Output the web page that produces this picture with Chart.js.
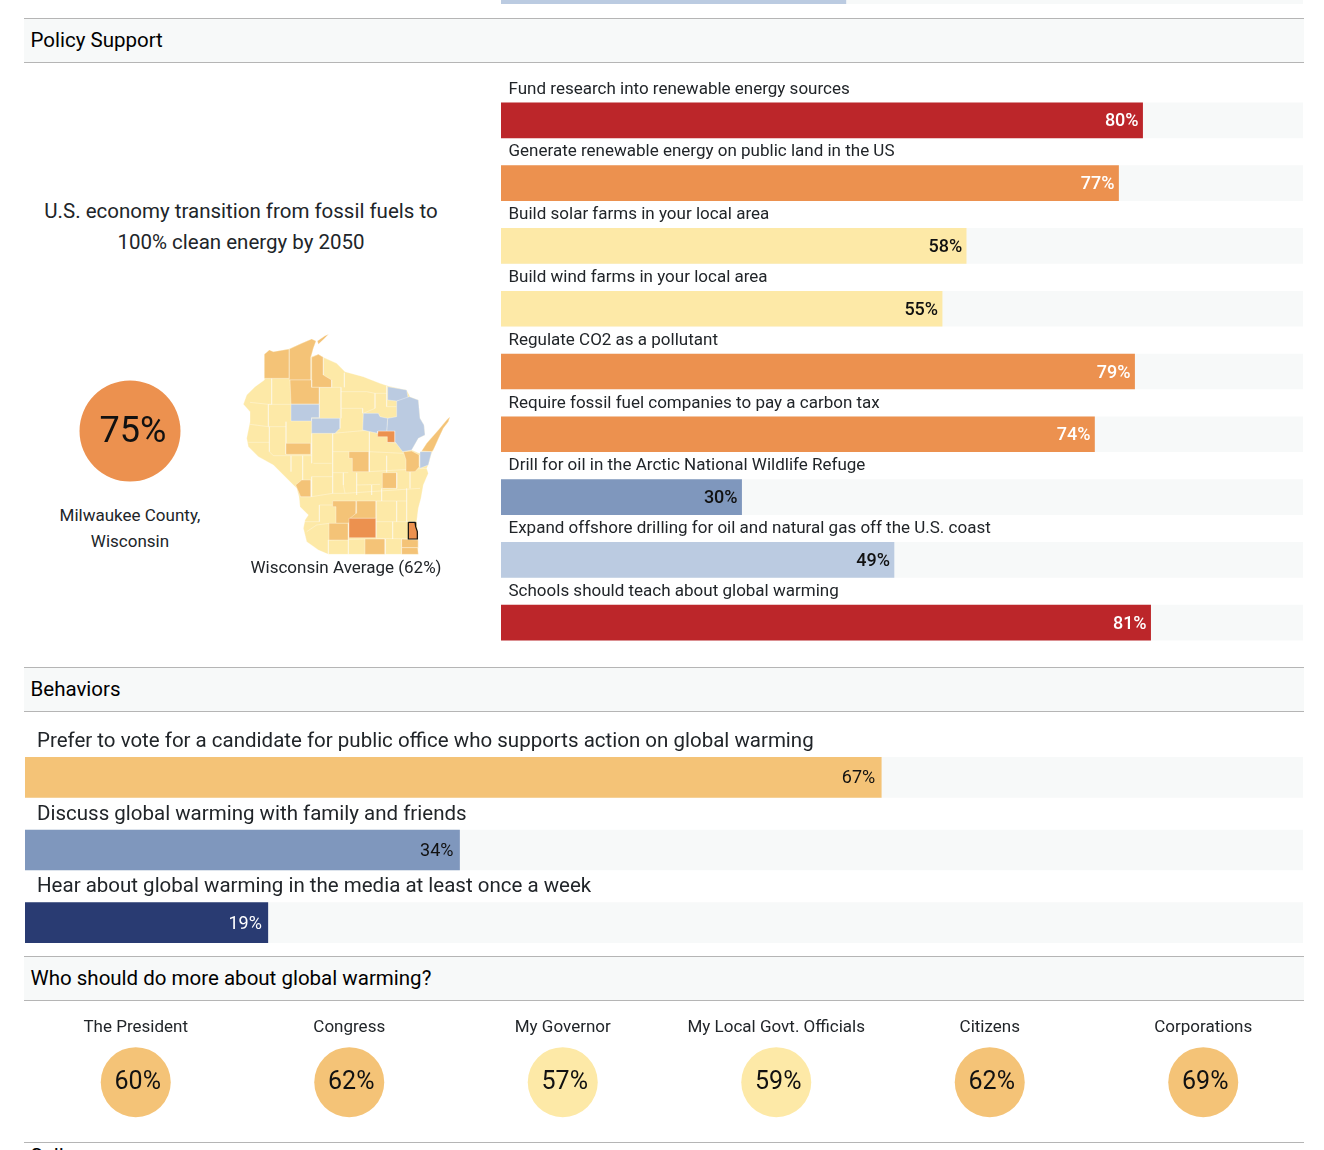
<!DOCTYPE html>
<html>
<head>
<meta charset="utf-8">
<title>Policy Support</title>
<script src="https://cdn.jsdelivr.net/npm/chart.js@4"></script>
<style>
  html, body { margin: 0; padding: 0; background: #fff; }
  body { position: relative; width: 1324px; height: 1150px; overflow: hidden; font-family: Roboto, sans-serif; color: #212529; }
  canvas, .txt, .head { position: absolute; }
  .head { left: 24px; width: 1280px; height: 43px; background: #f7f9f9; border-top: 1px solid #b5b5b5; border-bottom: 1px solid #b5b5b5; font-size: 20.5px; line-height: 43px; text-indent: 6.5px; color: #000; }
  .txt { text-align: center; white-space: nowrap; }
</style>
</head>
<body>
<canvas id="prev" width="802" height="36" style="left:501px;top:-32px"></canvas>

<div class="head" style="top:18px">Policy Support</div>
<div class="txt" style="left:21px;width:440px;top:196px;font-size:20.5px;line-height:31px">U.S. economy transition from fossil fuels to<br>100% clean energy by 2050</div>
<canvas id="county" width="120" height="120" style="left:70px;top:371px"></canvas>
<div class="txt" style="left:30px;width:200px;top:502px;font-size:17px;line-height:26px">Milwaukee County,<br>Wisconsin</div>
<canvas id="map" width="235" height="235" style="left:230px;top:325px"></canvas>
<div class="txt" style="left:236px;width:220px;top:556px;font-size:17px;line-height:22px">Wisconsin Average (62%)</div>
<canvas id="policy" width="802" height="584" style="left:501px;top:70px"></canvas>

<div class="head" style="top:667px">Behaviors</div>
<canvas id="behaviors" width="1278" height="239" style="left:25px;top:720px"></canvas>

<div class="head" style="top:956px">Who should do more about global warming?</div>
<canvas id="actors" width="1281" height="112" style="left:29px;top:1014px"></canvas>

<div class="head" style="top:1142px;background:#fff;line-height:26px">Salience</div>

<script>
// ---- data ----
const prevValues = [43];

const policyLabels = [
  'Fund research into renewable energy sources',
  'Generate renewable energy on public land in the US',
  'Build solar farms in your local area',
  'Build wind farms in your local area',
  'Regulate CO2 as a pollutant',
  'Require fossil fuel companies to pay a carbon tax',
  'Drill for oil in the Arctic National Wildlife Refuge',
  'Expand offshore drilling for oil and natural gas off the U.S. coast',
  'Schools should teach about global warming'
];
const policyValues = [80, 77, 58, 55, 79, 74, 30, 49, 81];

const behaviorLabels = [
  'Prefer to vote for a candidate for public office who supports action on global warming',
  'Discuss global warming with family and friends',
  'Hear about global warming in the media at least once a week'
];
const behaviorValues = [67, 34, 19];

const actorLabels = ['The President', 'Congress', 'My Governor', 'My Local Govt. Officials', 'Citizens', 'Corporations'];
const actorValues = [60, 62, 57, 59, 62, 69];

const countyValue = [75];

// map shapes, in the units of the map's own x and y scales
const stateOutline = [[103,88],[118,75],[130,80],[175,72],[215,55],[245,42],[258,48],[250,70],[243,95],[265,88],[280,97],[320,115],[345,140],[400,155],[450,175],[475,183],[530,195],[540,215],[565,225],[570,280],[582,300],[585,330],[565,340],[545,375],[568,385],[575,378],[590,355],[625,315],[650,285],[660,275],[655,290],[640,310],[628,335],[610,375],[605,385],[595,420],[590,430],[595,445],[580,480],[573,520],[565,550],[560,590],[565,630],[565,688],[295,688],[265,675],[230,650],[220,610],[225,585],[235,570],[210,545],[207,515],[200,490],[175,465],[130,420],[85,395],[55,365],[50,340],[60,290],[60,260],[40,238],[50,210],[75,185],[103,165]];

const lightCounties = [
  [[103,88],[118,75],[130,80],[178,72],[178,160],[103,160]],
  [[178,72],[215,55],[245,42],[258,48],[250,70],[243,95],[243,165],[178,165]],
  [[245,97],[265,88],[280,97],[280,150],[305,165],[305,187],[245,187]],
  [[180,165],[245,165],[245,187],[268,187],[268,237],[183,237]],
  [[168,355],[243,355],[243,388],[168,388]],
  [[357,380],[417,380],[417,440],[367,440],[367,400],[357,400]],
  [[520,380],[545,378],[568,390],[568,425],[555,440],[528,440],[528,405]],
  [[457,443],[500,443],[500,490],[457,490]],
  [[197,480],[215,465],[243,465],[243,515],[212,515]],
  [[308,528],[380,528],[378,565],[355,595],[318,595],[318,545],[308,545]],
  [[380,528],[438,528],[438,580],[360,580],[378,565]],
  [[297,595],[355,595],[355,645],[297,645]],
  [[405,642],[465,642],[465,688],[405,688]],
  [[515,642],[565,645],[565,668],[515,668]],
  [[515,668],[563,668],[565,688],[515,688]],
  [[575,378],[590,355],[625,315],[650,285],[660,275],[655,290],[640,310],[628,335],[610,375],[605,380]],
  [[262,48],[285,32],[296,28],[282,42],[265,58]]
];
const strongCounties = [
  [[357,580],[438,580],[438,638],[357,638]],
  [[443,318],[495,318],[495,352],[472,352],[472,335],[443,335]]
];
const blueCounties = [
  [[183,238],[268,238],[268,278],[245,278],[245,288],[183,288]],
  [[245,280],[330,280],[330,310],[315,325],[245,325]],
  [[473,185],[530,195],[535,222],[500,228],[473,225]],
  [[500,228],[538,215],[565,225],[570,280],[582,300],[585,330],[565,340],[545,375],[518,380],[495,350],[495,318],[470,318],[473,280],[500,275]],
  [[400,265],[445,265],[450,275],[473,280],[470,318],[443,318],[443,325],[398,315]],
  [[570,380],[605,380],[595,420],[570,430]]
];
const milwaukee = [[535,592],[555,592],[557,605],[562,620],[562,642],[535,642]];

const countyLines = [
  [[125,160],[125,238],[115,238],[115,305]], [[60,232],[115,238],[183,238]], [[60,298],[115,305],[168,305]],
  [[118,305],[118,380],[130,392]], [[55,352],[118,352]], [[168,290],[168,388]], [[245,325],[245,415]],
  [[130,392],[245,392]], [[183,392],[183,440]], [[218,392],[218,465]], [[250,415],[305,415]],
  [[308,325],[308,505]], [[245,455],[308,455]], [[245,455],[245,515]], [[308,380],[357,380]],
  [[308,325],[420,315]], [[333,250],[333,280]], [[268,187],[333,187]], [[333,187],[333,250],[398,250],[398,265]],
  [[343,143],[343,187]], [[333,200],[410,200],[435,205],[435,250],[400,265]], [[470,183],[470,245],[500,245]],
  [[435,205],[470,205]], [[418,320],[418,440]], [[472,352],[515,355],[518,380]], [[418,380],[520,385]],
  [[470,392],[470,443]], [[417,440],[590,430]], [[355,443],[308,443]], [[340,443],[340,480],[345,505],[308,505]],
  [[380,443],[380,480],[450,478]], [[500,443],[500,490],[457,490]], [[540,440],[540,490]], [[345,505],[570,490]],
  [[380,480],[380,510]], [[425,480],[425,510]], [[455,490],[455,528]], [[530,490],[530,590]], [[438,528],[530,528]],
  [[500,528],[500,590]], [[438,590],[560,590]], [[488,590],[488,642]], [[438,640],[565,642]], [[355,645],[355,688]],
  [[295,645],[405,642]], [[295,645],[295,688]], [[465,642],[465,688]], [[515,642],[515,688]], [[268,540],[268,590]],
  [[268,540],[308,540]], [[230,620],[260,600],[297,595]], [[220,590],[268,590]], [[210,515],[245,515],[308,505]],
  [[515,230],[520,300],[530,330]], [[475,280],[515,300]], [[500,318],[530,325],[583,330]]
];

// ---- colours ----
const TRACK = '#f7f9f9';
function colorFor(v) {
  if (v >= 80) return '#bc262a';
  if (v >= 70) return '#ec914f';
  if (v >= 60) return '#f4c377';
  if (v >= 50) return '#fde9a7';
  if (v >= 40) return '#bbcbe1';
  if (v >= 20) return '#7f97bd';
  return '#293b72';
}
function labelColorFor(v) {
  return (v >= 70 || v < 20) ? '#fff' : '#111';
}

// ---- bars ----
// text above each bar and value at the end of it
const barText = {
  id: 'barText',
  afterDatasetsDraw(chart, args, opts) {
    const ctx = chart.ctx;
    const bars = chart.getDatasetMeta(1).data;
    const values = chart.data.datasets[1].data;
    ctx.save();
    ctx.textBaseline = 'middle';
    bars.forEach((bar, i) => {
      ctx.font = opts.labelFont;
      ctx.fillStyle = '#212529';
      ctx.textAlign = 'left';
      ctx.fillText(chart.data.labels[i], opts.labelX, bar.y - opts.labelUp);
      ctx.font = opts.valueFont;
      ctx.fillStyle = labelColorFor(values[i]);
      ctx.textAlign = 'right';
      ctx.fillText(values[i] + '%', bar.x - opts.valueGap, bar.y + 1.5);
    });
    ctx.restore();
  }
};

function barChart(id, labels, values, thickness, top, text) {
  return new Chart(document.getElementById(id), {
    type: 'bar',
    data: {
      labels: labels,
      datasets: [
        { data: values.map(() => 100), backgroundColor: TRACK, order: 2 },
        { data: values, backgroundColor: values.map(colorFor), order: 1 }
      ]
    },
    options: {
      indexAxis: 'y',
      responsive: false,
      animation: false,
      layout: { padding: { top: top } },
      datasets: { bar: { grouped: false, barThickness: thickness } },
      plugins: { legend: { display: false }, tooltip: { enabled: false }, barText: text },
      scales: {
        x: { display: false, min: 0, max: 100 },
        y: { display: false }
      }
    },
    plugins: text ? [barText] : []
  });
}

barChart('prev', [''], prevValues, 36, 0, false);
barChart('policy', policyLabels, policyValues, 35, 19, {
  labelFont: '17px Roboto', valueFont: '500 18px Roboto', labelX: 7.5, labelUp: 31, valueGap: 4
});
barChart('behaviors', behaviorLabels, behaviorValues, 40, 21, {
  labelFont: '20.5px Roboto', valueFont: '18px Roboto', labelX: 12, labelUp: 35.5, valueGap: 6
});

// ---- circles ----
const circleText = {
  id: 'circleText',
  afterDatasetsDraw(chart, args, opts) {
    const ctx = chart.ctx;
    const values = chart.data.datasets[0].values;
    ctx.save();
    ctx.font = opts.font;
    ctx.fillStyle = '#111';
    ctx.textAlign = 'center';
    ctx.textBaseline = 'middle';
    chart.getDatasetMeta(0).data.forEach((pt, i) => {
      ctx.fillText(values[i] + '%', pt.x + opts.dx, pt.y + opts.dy);
    });
    ctx.restore();
  }
};

new Chart(document.getElementById('actors'), {
  type: 'scatter',
  data: {
    labels: actorLabels,
    datasets: [{
      data: actorLabels.map(a => ({ x: a, y: 0 })),
      values: actorValues,
      pointRadius: 35,
      pointBorderWidth: 0,
      pointBackgroundColor: actorValues.map(colorFor),
      clip: false
    }]
  },
  options: {
    responsive: false,
    animation: false,
    layout: { autoPadding: false, padding: { bottom: 12 } },
    plugins: { legend: { display: false }, tooltip: { enabled: false }, circleText: { font: '25px Roboto', dx: 2, dy: 1 } },
    scales: {
      x: {
        type: 'category', position: 'top', labels: actorLabels, offset: true,
        grid: { display: false }, border: { display: false },
        ticks: { font: { family: 'Roboto', size: 17 }, color: '#212529', maxRotation: 0, autoSkip: false, padding: 4 }
      },
      y: { display: false, min: -1, max: 1 }
    }
  },
  plugins: [circleText]
});

new Chart(document.getElementById('county'), {
  type: 'scatter',
  data: {
    datasets: [{
      data: [{ x: 0, y: 0 }],
      values: countyValue,
      pointRadius: 50.5,
      pointBorderWidth: 0,
      pointBackgroundColor: countyValue.map(colorFor),
      clip: false
    }]
  },
  options: {
    responsive: false,
    animation: false,
    plugins: { legend: { display: false }, tooltip: { enabled: false }, circleText: { font: '36px Roboto', dx: 3, dy: 2 } },
    scales: { x: { display: false, min: -1, max: 1 }, y: { display: false, min: -1, max: 1 } }
  },
  plugins: [circleText]
});

// ---- map ----
const toPts = arr => arr.map(p => ({ x: p[0], y: p[1] }));
const closed = arr => toPts(arr.concat([arr[0]]));
function shape(arr, fill) {
  return { data: closed(arr), showLine: true, fill: 'shape', backgroundColor: fill, borderColor: 'rgba(255,255,255,0.55)', borderWidth: 0.6, pointRadius: 0, tension: 0 };
}
const mapSets = [shape(stateOutline, colorFor(55))];
countyLines.forEach(l => mapSets.push({ data: toPts(l), showLine: true, fill: false, borderColor: 'rgba(255,255,255,0.55)', borderWidth: 0.6, pointRadius: 0 }));
lightCounties.forEach(c => mapSets.push(shape(c, colorFor(65))));
strongCounties.forEach(c => mapSets.push(shape(c, colorFor(75))));
blueCounties.forEach(c => mapSets.push(shape(c, colorFor(45))));
mapSets.push(Object.assign(shape(milwaukee, colorFor(75)), { borderColor: '#111', borderWidth: 1.2 }));
// chart.js paints the first dataset last
mapSets.reverse();

new Chart(document.getElementById('map'), {
  type: 'scatter',
  data: { datasets: mapSets },
  options: {
    responsive: false,
    animation: false,
    plugins: { legend: { display: false }, tooltip: { enabled: false } },
    scales: {
      x: { display: false, min: 0, max: 705 },
      y: { display: false, min: 0, max: 705, reverse: true }
    }
  }
});
</script>
</body>
</html>
